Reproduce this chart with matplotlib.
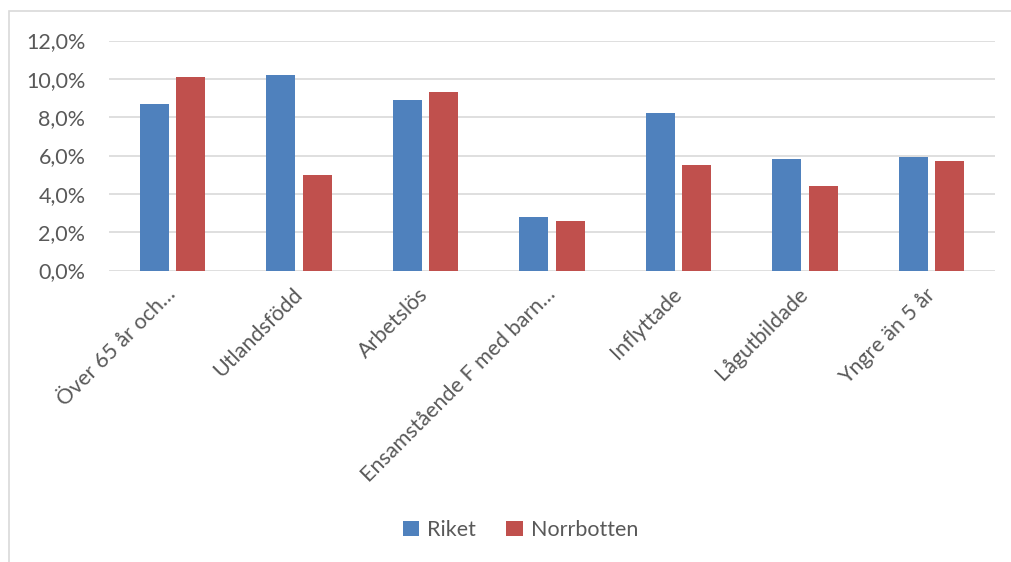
import numpy as np
import matplotlib
matplotlib.use("Agg")
import matplotlib.pyplot as plt
from matplotlib.patches import Rectangle
from matplotlib.ticker import FuncFormatter

plt.rcParams['font.family'] = ['Lato', 'DejaVu Sans']

categories = ['Över 65 år och…', 'Utlandsfödd', 'Arbetslös', 'Ensamstående F med barn…',
              'Inflyttade', 'Lågutbildade', 'Yngre än 5 år']
riket = [8.7, 10.2, 8.9, 2.8, 8.2, 5.8, 5.9]
norrbotten = [10.1, 5.0, 9.3, 2.6, 5.5, 4.4, 5.7]

blue = '#4F81BD'
red = '#C0504D'
text_col = '#595959'
grid_col = '#D9D9D9'
fs = 15.5

fig = plt.figure(figsize=(10.11, 5.62), dpi=100)
ax = fig.add_axes([109 / 1011, 1 - 270.5 / 562, 886 / 1011, 230 / 562])

# outer chart frame
fig.patches.append(Rectangle((9 / 1011, -0.05), 1.1, 1 - 11 / 562 + 0.05,
                             transform=fig.transFigure, fill=False,
                             edgecolor=grid_col, linewidth=1.2))

x = np.arange(len(categories))
w = 0.23
off = 0.144
ax.bar(x - off, riket, w, color=blue, label='Riket', zorder=3)
ax.bar(x + off, norrbotten, w, color=red, label='Norrbotten', zorder=3)

ax.set_xlim(-0.5, len(categories) - 0.5)
ax.set_ylim(0, 12)
ax.set_yticks(np.arange(0, 12.1, 2))
ax.yaxis.set_major_formatter(FuncFormatter(lambda v, p: f'{v:.1f}%'.replace('.', ',')))
ax.grid(axis='y', color=grid_col, linewidth=1.2, zorder=0)
for s in ax.spines.values():
    s.set_visible(False)
ax.tick_params(axis='both', length=0, colors=text_col, labelsize=fs)
ax.tick_params(axis='y', pad=17)

ax.set_xticks(x)
ax.set_xticklabels(categories, rotation=45, ha='right', va='center',
                   rotation_mode='anchor', color=text_col)
ax.tick_params(axis='x', pad=15)

fig.legend(loc='center', bbox_to_anchor=(0.515, 0.057), ncol=2, frameon=False,
           fontsize=fs, handlelength=0.75, handleheight=0.75, handletextpad=0.4,
           columnspacing=1.4, labelcolor=text_col)

fig.savefig('out.png', dpi=100)
